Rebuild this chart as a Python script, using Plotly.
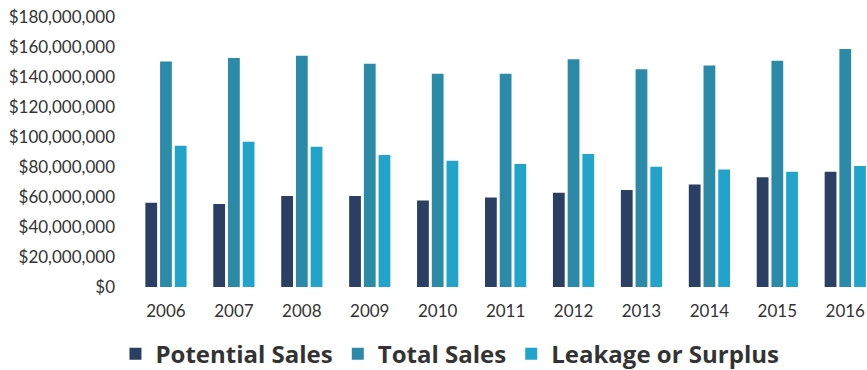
import plotly.graph_objects as go

# Annual sales figures (US dollars)
years = ["2006", "2007", "2008", "2009", "2010", "2011",
         "2012", "2013", "2014", "2015", "2016"]
potential_sales = [56.1e6, 55.3e6, 60.6e6, 60.6e6, 57.7e6, 59.7e6,
                   62.9e6, 64.6e6, 68.3e6, 73.1e6, 76.8e6]
total_sales = [150.3e6, 152.6e6, 154.1e6, 148.8e6, 142.1e6, 142.1e6,
               151.9e6, 145.2e6, 147.7e6, 150.8e6, 158.6e6]
leakage_surplus = [94.2e6, 96.9e6, 93.5e6, 88.0e6, 84.2e6, 82.0e6,
                   88.7e6, 80.2e6, 78.4e6, 76.8e6, 80.6e6]

y_ticks = [i * 20_000_000 for i in range(10)]
y_tick_text = ["$0" if v == 0 else f"${v:,}" for v in y_ticks]

series = [
    ("Potential Sales", potential_sales, "#2b3e63"),
    ("Total Sales", total_sales, "#2b8aa7"),
    ("Leakage or Surplus", leakage_surplus, "#22a4ca"),
]

fig = go.Figure()
for name, values, color in series:
    fig.add_trace(go.Bar(
        x=years, y=values, name=name,
        marker=dict(color=color, line=dict(width=0)),
    ))

tick_family = "Lato, 'Open Sans', sans-serif"
legend_family = "'Open Sans', Lato, sans-serif"

fig.update_layout(
    width=867, height=370,
    margin=dict(l=132, r=0, t=17, b=83, autoexpand=False),
    paper_bgcolor="white", plot_bgcolor="white",
    barmode="group", bargap=0.35, bargroupgap=0.2,
    font=dict(family=tick_family, color="#333333", size=17),
    showlegend=True,
    legend=dict(
        orientation="h",
        xref="container", x=0.519, xanchor="center",
        yref="container", y=0.043, yanchor="middle",
        font=dict(family=legend_family, size=24, color="#333333", weight="bold"),
        itemwidth=30, traceorder="normal",
        bgcolor="rgba(0,0,0,0)",
    ),
    xaxis=dict(
        type="category", range=[-0.5, 10.32],
        showgrid=False, showline=False, zeroline=False,
        ticks="", ticklabelstandoff=12,
        tickfont=dict(size=17, color="#333333"),
    ),
    yaxis=dict(
        range=[0, 180_000_000],
        tickvals=y_ticks, ticktext=y_tick_text,
        showgrid=False, showline=False, zeroline=False,
        ticks="", ticklabelstandoff=16,
        tickfont=dict(size=17, color="#333333"),
        automargin=False,
    ),
)

fig.write_html("out.html")
